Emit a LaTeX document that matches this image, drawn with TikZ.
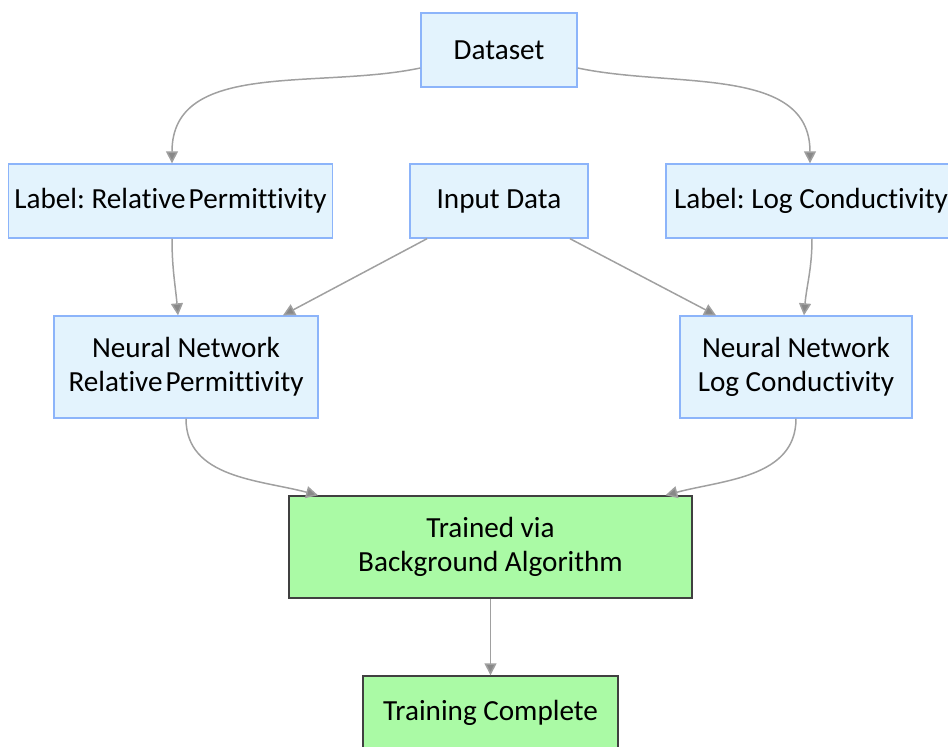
\documentclass[tikz,border=0pt]{standalone}
\usepackage{fontspec}
\setmainfont{Carlito}[Ligatures=NoCommon]
\usetikzlibrary{arrows.meta}
\definecolor{boxblue}{RGB}{227,243,253}
\definecolor{edgeblue}{RGB}{140,180,250}
\definecolor{boxgreen}{RGB}{170,250,165}
\definecolor{arrowgrey}{RGB}{160,160,160}
\frenchspacing

\begin{document}
\begin{tikzpicture}
      [x=0.02cm,y=-0.02cm,
      every node/.style={shape=rectangle,align=center,font=\fontsize{16.6}{19.5}\selectfont,text=black},
      bluebox/.style={draw=edgeblue,fill=boxblue,line width=0.8pt,minimum height=1.48cm},
      greenbox/.style={draw=black!75,fill=boxgreen,line width=0.8pt,minimum height=1.48cm},
      flow/.style={draw=arrowgrey,line width=0.85pt,-{Triangle[length=0.24cm,width=0.24cm,fill=arrowgrey!85!black]}}]
      \useasboundingbox (0,0) rectangle (948,747);
      \node[bluebox,minimum width=3.12cm] (dataset) at (499,50) {Dataset};
      \node[bluebox,minimum width=6.42cm] (labelperm) at (170.5,201) {Label: Relative\hspace{-0.12em} Permittivity};
      \node[bluebox,minimum width=3.56cm] (input) at (499,201) {Input Data};
      \node[bluebox,minimum width=5.8cm] (labelcond) at (811,201) {Label: Log Conductivity};
      \node[bluebox,minimum width=5.28cm,minimum height=2.04cm] (netperm) at (186,367) {Neural Network\\Relative\hspace{-0.12em} Permittivity};
      \node[bluebox,minimum width=4.64cm,minimum height=2.04cm] (netcond) at (796,367) {Neural Network\\Log Conductivity};
      \node[greenbox,minimum width=8.06cm,minimum height=2.04cm] (trained) at (490.5,547) {Trained via\\Background Algorithm};
      \node[greenbox,minimum width=5.1cm] (complete) at (490.5,713) {Training Complete};
      \draw[flow] ([yshift=-0.36cm]dataset.west) to[out=192,in=90] ([xshift=0.03cm]labelperm.north);
      \draw[flow] ([yshift=-0.36cm]dataset.east) to[out=-12,in=90] ([xshift=-0.02cm]labelcond.north);
      \draw[flow] ([xshift=0.03cm]labelperm.south) to[out=-90,in=95] ([xshift=-0.16cm]netperm.north);
      \draw[flow] ([xshift=0.02cm]labelcond.south) to[out=-90,in=85] ([xshift=0.16cm]netcond.north);
      \draw[flow] ([xshift=-1.44cm]input.south) -- ([xshift=1.94cm]netperm.north);
      \draw[flow] ([xshift=1.42cm]input.south) -- ([xshift=-1.6cm]netcond.north);
      \draw[flow] (netperm.south) to[out=-90,in=165] ([xshift=-3.45cm]trained.north);
      \draw[flow] (netcond.south) to[out=-90,in=15] ([xshift=3.5cm]trained.north);
      \draw[flow] (trained) -- (complete);
\end{tikzpicture}
\end{document}
